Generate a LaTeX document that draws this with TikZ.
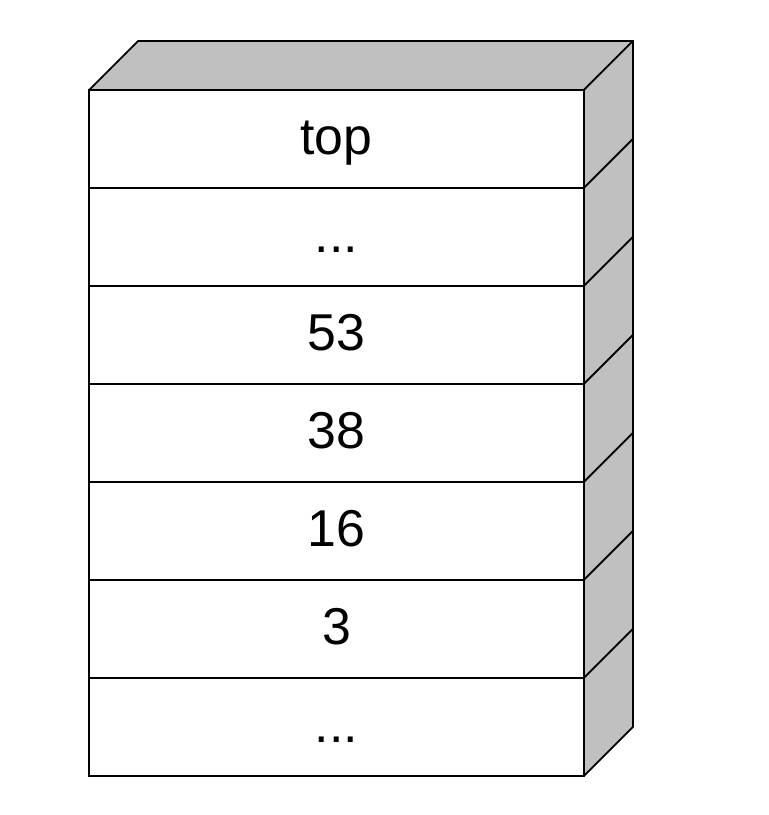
\documentclass[tikz,border=0pt]{standalone}
\usepackage{fontspec}
\setmainfont{Liberation Sans}
\usetikzlibrary{positioning}
\definecolor{StackGray}{HTML}{C0C0C0}
\tikzset{
  cell/.style={draw=black,line width=1pt,fill=white,outer sep=0pt,inner sep=0pt,
    minimum width=9.9cm,minimum height=1.96cm,text height=0.62cm,text depth=0pt,
    font=\fontsize{29.5}{34}\selectfont},
  sideface/.style={draw=black,line width=1pt,fill=StackGray,line join=round}
}

\begin{document}
\begin{tikzpicture}[x=0.02cm,y=0.02cm]
  \useasboundingbox (0,0) rectangle (768,815);

  \node[cell] (c1) at (336.5,676) {top};
  \node[cell,below=0pt of c1] (c2) {...};
  \node[cell,below=0pt of c2] (c3) {53};
  \node[cell,below=0pt of c3] (c4) {38};
  \node[cell,below=0pt of c4] (c5) {16};
  \node[cell,below=0pt of c5] (c6) {3};
  \node[cell,below=0pt of c6] (c7) {...};

  % top face
  \draw[sideface] (c1.north west) -- ++(49,49) -- ++(495,0) -- (c1.north east) -- cycle;
  % right faces
  \foreach \i in {1,...,7}
    \draw[sideface] (c\i.north east) -- ++(49,49) -- ++(0,-98) -- (c\i.south east) -- cycle;
\end{tikzpicture}
\end{document}
